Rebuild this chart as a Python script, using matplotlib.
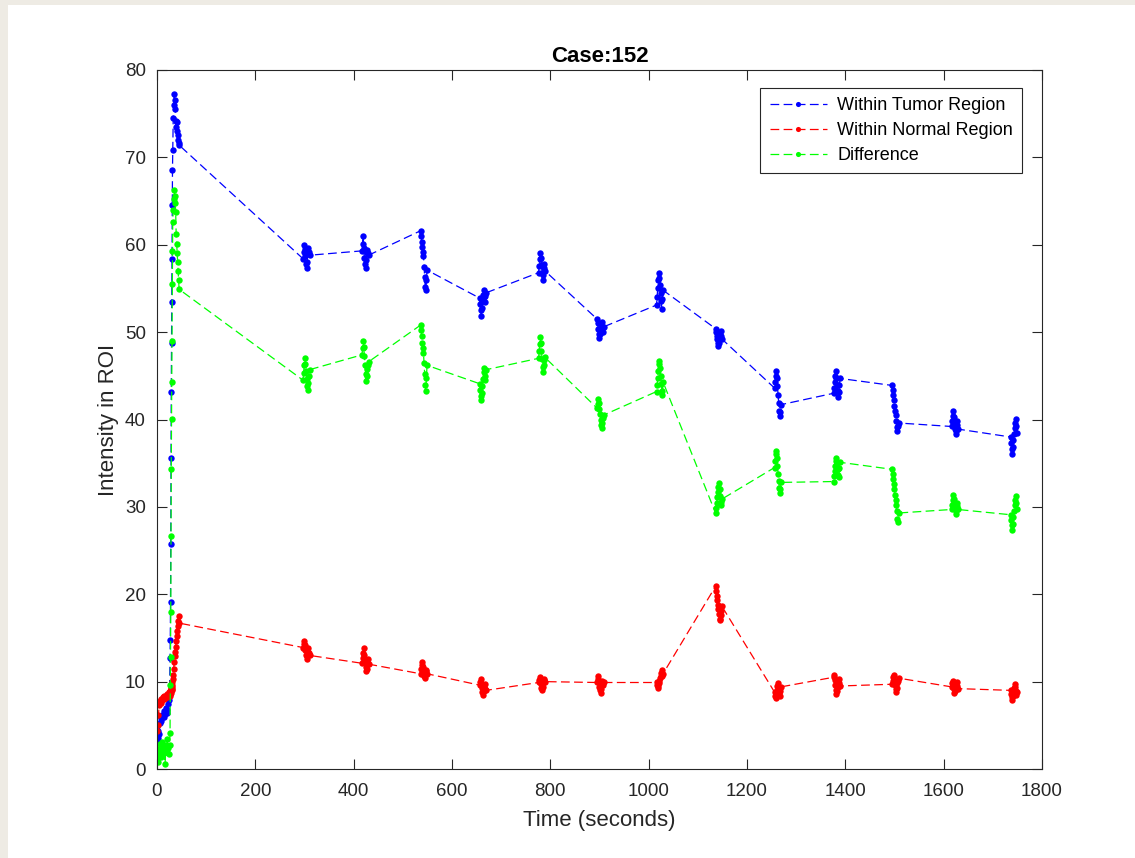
import matplotlib
matplotlib.use('Agg')
import matplotlib.pyplot as plt
from matplotlib.patches import Rectangle
import numpy as np

plt.rcParams['font.family'] = ['Liberation Sans', 'DejaVu Sans']

# first pass: dense frames during bolus arrival (seconds)
early_time = [0, 1.5, 3, 4.5, 6, 7.5, 9, 10.5, 12, 13.5, 15, 16.5, 18, 19.5, 21, 22.5, 24, 25.5,
              26.5, 27, 27.5, 28, 28.5, 29, 29.5, 30, 30.5, 31, 31.5, 32,
              33, 34, 35, 36, 37, 38, 39, 40, 41, 42, 43, 44, 45]
early_tumor = [3.2, 3.6, 4.4, 4.0, 5.3, 5.8, 5.5, 6.2, 6.0, 6.6, 5.9, 6.3, 7.0, 6.4, 6.8, 7.4, 7.9, 8.6,
               12.7, 14.8, 19.1, 25.8, 35.6, 43.1, 48.7, 53.5, 58.4, 64.6, 68.6, 70.8,
               74.5, 76.0, 77.2, 76.6, 75.5, 74.2, 73.5, 74.0, 73.0, 72.6, 72.0, 71.6, 71.4]
early_normal = [4.3, 5.0, 6.2, 7.3, 7.8, 7.6, 8.0, 7.9, 8.2, 8.0, 8.4, 8.1, 8.3, 8.6, 8.2, 8.5, 8.8, 8.4,
                8.6, 8.9, 9.1, 8.7, 9.0, 9.3, 9.0, 9.4, 9.2, 9.6, 9.9, 10.3,
                10.8, 11.5, 12.3, 12.9, 13.4, 14.0, 14.6, 15.2, 15.8, 16.4, 16.9, 17.5, 16.7]
early_diff = [1.2, 0.8, 2.3, 1.6, 2.9, 2.0, 1.4, 3.1, 2.5, 1.8, 2.2, 0.6, 2.7, 1.9, 3.4, 2.4, 1.7, 2.8,
              4.1, 9.6, 12.8, 18.0, 26.7, 34.3, 40.1, 44.3, 49.0, 55.5, 59.3, 62.6,
              64.0, 65.2, 66.3, 65.6, 64.8, 63.7, 61.2, 60.1, 59.0, 58.0, 57.0, 56.0, 54.9]

# later acquisitions: start time of each block and frame offsets within a block
scan_start = [297, 417, 536, 656, 776, 895, 1016, 1136, 1256, 1376, 1495, 1616, 1736]
frame_offset = [0, 1.2, 2.4, 3.6, 4.8, 6.0, 7.2, 8.4, 9.6, 10.8, 12.0, 13.2]

tumor_scans = [
    [58.4, 59.2, 60.0, 59.5, 58.7, 57.8, 57.3, 58.0, 59.0, 59.6, 59.2, 58.8],
    [59.3, 60.1, 61.0, 59.6, 58.5, 57.8, 57.3, 58.2, 59.0, 59.4, 59.1, 58.8],
    [61.6, 61.0, 60.3, 59.7, 59.2, 58.7, 57.4, 56.3, 55.2, 54.8, 56.0, 57.1],
    [53.9, 53.2, 52.5, 51.9, 52.8, 53.6, 54.2, 54.8, 54.0, 53.4, 54.1, 54.5],
    [56.8, 57.6, 58.4, 59.1, 58.5, 57.7, 56.8, 56.0, 56.5, 57.3, 57.8, 57.0],
    [51.5, 51.0, 50.4, 49.8, 49.3, 49.8, 50.3, 50.8, 51.2, 50.5, 50.0, 50.6],
    [53.1, 54.0, 55.0, 56.0, 56.8, 56.2, 55.4, 54.5, 53.6, 52.6, 53.8, 54.8],
    [50.4, 50.0, 49.6, 49.2, 48.8, 48.4, 48.8, 49.3, 49.7, 50.1, 49.6, 49.2],
    [43.6, 44.3, 45.0, 45.6, 44.7, 43.8, 42.8, 41.9, 41.0, 40.4, 40.9, 41.7],
    [43.0, 43.6, 44.3, 45.0, 45.5, 44.8, 44.0, 43.3, 42.6, 43.2, 44.0, 44.7],
    [43.9, 43.4, 42.8, 42.2, 41.6, 41.0, 40.5, 39.8, 39.1, 38.7, 39.2, 39.6],
    [39.2, 39.8, 40.4, 41.0, 40.3, 39.6, 38.9, 38.3, 38.7, 39.4, 39.8, 38.9],
    [38.0, 37.3, 36.6, 36.0, 36.8, 37.6, 38.3, 39.0, 39.6, 40.1, 39.2, 38.5],
]
normal_scans = [
    [13.9, 14.3, 14.7, 14.2, 13.6, 13.1, 12.6, 12.9, 13.4, 13.8, 13.3, 13.0],
    [12.1, 12.7, 13.3, 13.8, 13.0, 12.3, 11.7, 11.2, 11.5, 12.2, 12.6, 12.0],
    [10.9, 11.4, 11.9, 12.3, 11.7, 11.1, 10.6, 10.4, 10.8, 11.3, 11.2, 10.9],
    [9.6, 10.0, 10.3, 9.8, 9.3, 8.8, 8.5, 8.9, 9.4, 9.7, 9.2, 9.0],
    [9.9, 10.2, 10.5, 10.1, 9.7, 9.3, 9.0, 9.4, 9.8, 10.3, 10.2, 10.0],
    [9.9, 10.3, 10.6, 10.0, 9.4, 9.0, 8.7, 9.2, 9.7, 10.1, 9.6, 9.9],
    [9.9, 9.6, 9.3, 9.5, 9.8, 10.1, 10.4, 10.7, 11.0, 11.3, 10.6, 10.9],
    [20.9, 20.4, 19.8, 19.3, 18.8, 18.3, 17.7, 17.2, 17.0, 17.6, 18.1, 18.6],
    [8.8, 8.4, 8.1, 8.5, 9.0, 9.5, 9.8, 9.3, 8.7, 8.3, 8.9, 9.4],
    [10.5, 10.8, 10.2, 9.6, 9.0, 8.6, 8.9, 9.4, 9.9, 10.3, 9.8, 9.5],
    [9.7, 10.1, 10.5, 10.8, 10.2, 9.6, 9.1, 8.8, 9.3, 9.8, 10.1, 10.4],
    [9.4, 9.8, 10.1, 9.6, 9.1, 8.7, 8.9, 9.3, 9.7, 9.9, 9.5, 9.2],
    [9.0, 8.6, 8.2, 7.9, 8.3, 8.8, 9.3, 9.7, 9.4, 8.9, 8.5, 8.8],
]
diff_scans = [
    [44.5, 45.3, 46.2, 47.0, 46.4, 45.5, 44.6, 43.8, 43.4, 44.2, 45.0, 45.7],
    [47.4, 48.2, 49.0, 48.3, 47.3, 46.2, 45.2, 44.4, 45.0, 45.8, 46.2, 46.6],
    [50.8, 50.2, 49.5, 48.8, 48.2, 47.6, 46.5, 45.2, 44.0, 43.3, 44.8, 46.2],
    [44.1, 43.4, 42.7, 42.2, 43.0, 43.8, 44.6, 45.4, 45.9, 45.0, 44.5, 45.7],
    [47.0, 47.8, 48.6, 49.4, 48.7, 47.8, 46.9, 46.0, 45.4, 46.2, 46.8, 47.1],
    [41.3, 41.8, 42.4, 41.9, 41.2, 40.6, 40.0, 39.4, 39.0, 39.6, 40.2, 40.5],
    [43.2, 44.0, 44.8, 45.6, 46.4, 46.7, 45.9, 45.0, 44.1, 43.3, 42.8, 44.3],
    [29.3, 29.9, 30.5, 31.1, 31.7, 32.3, 32.7, 32.0, 31.3, 30.6, 30.2, 30.9],
    [34.5, 35.2, 36.0, 36.4, 35.6, 34.7, 33.8, 33.0, 32.2, 31.6, 32.1, 32.8],
    [32.9, 33.5, 34.1, 34.7, 35.3, 35.6, 35.0, 34.3, 33.7, 33.4, 34.4, 35.1],
    [34.3, 33.8, 33.2, 32.6, 32.0, 31.4, 30.8, 30.2, 29.5, 28.6, 28.3, 29.3],
    [29.7, 30.2, 30.8, 31.4, 30.9, 30.3, 29.7, 29.2, 29.5, 30.1, 30.4, 29.7],
    [29.1, 28.5, 27.9, 27.3, 28.0, 28.8, 29.5, 30.2, 30.8, 31.3, 30.5, 29.8],
]

scan_time = [s + o for s in scan_start for o in frame_offset]
time_s = np.array(early_time + scan_time)
tumor = np.array(early_tumor + sum(tumor_scans, []))
normal = np.array(early_normal + sum(normal_scans, []))
diff = np.array(early_diff + sum(diff_scans, []))

fig = plt.figure(figsize=(11.35, 8.58), dpi=100)
fig.patch.set_facecolor('white')
# window frame strips along the top and left edge
fig.patches.append(Rectangle((0, 0), 8 / 1135, 1, transform=fig.transFigure,
                             facecolor='#eeebe4', edgecolor='none', zorder=-1))
fig.patches.append(Rectangle((0, 1 - 5 / 858), 1, 5 / 858, transform=fig.transFigure,
                             facecolor='#eeebe4', edgecolor='none', zorder=-1))

ax = fig.add_axes([157 / 1135, 1 - 769 / 858, 885 / 1135, 699 / 858])

style = dict(linestyle='--', dashes=(7, 3.5), linewidth=0.9, marker='o',
             markersize=4.6, markeredgewidth=0)
ax.plot(time_s, tumor, color='#0000ff', label='Within Tumor Region', **style)
ax.plot(time_s, normal, color='#ff0000', label='Within Normal Region', **style)
ax.plot(time_s, diff, color='#00ff00', label='Difference', **style)

ax.set_xlim(0, 1800)
ax.set_ylim(0, 80)
ax.set_xticks(np.arange(0, 1801, 200))
ax.set_yticks(np.arange(0, 81, 10))
ax.tick_params(direction='in', length=7, width=0.8, colors='#262626',
               labelsize=13.5, top=True, right=True)
ax.tick_params(axis='x', pad=10)
ax.tick_params(axis='y', pad=8)
for sp in ax.spines.values():
    sp.set_color('#262626')
    sp.set_linewidth(0.8)

ax.set_xlabel('Time (seconds)', fontsize=16, color='#262626', labelpad=7)
ax.set_ylabel('Intensity in ROI', fontsize=16, color='#262626', labelpad=4)
ax.set_title('Case:152', fontsize=16, fontweight='bold', color='black', pad=6)

leg = ax.legend(loc='upper right', bbox_to_anchor=(0.9774, 0.9742), fontsize=13,
                frameon=True, fancybox=False, framealpha=1, edgecolor='#262626',
                handlelength=3.2, handletextpad=0.55, borderpad=0.5, labelspacing=0.45,
                borderaxespad=0, markerscale=0.8)
leg.get_frame().set_linewidth(0.8)

fig.savefig('out.png', dpi=100)
